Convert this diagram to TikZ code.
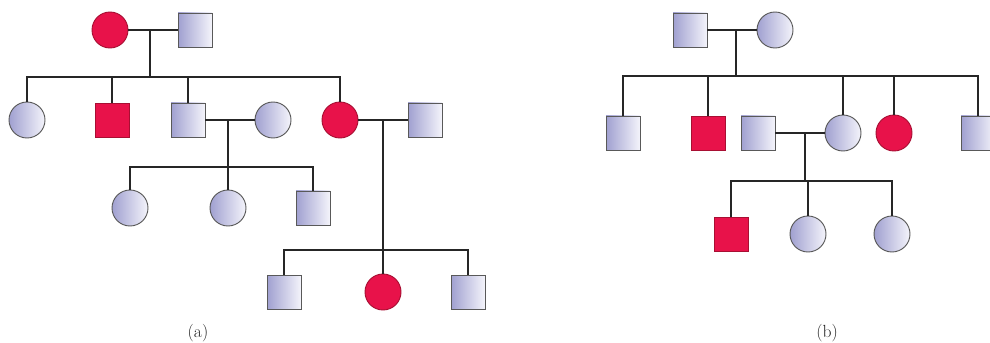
\documentclass[tikz,border=0pt]{standalone}
\usepackage{xcolor}
\usepackage{tikz}

\definecolor{lavdark}{HTML}{A0A0D0}
\definecolor{lavlight}{HTML}{F4F4FB}
\definecolor{affred}{HTML}{E8124A}
\definecolor{affedge}{HTML}{A80F33}

\begin{document}
\begin{tikzpicture}[x=0.03cm, y=-0.03cm,
    every node/.style={inner sep=0pt, outer sep=0pt, line width=0.8pt},
    male/.style={rectangle, minimum size=1.02cm},
    female/.style={circle, minimum size=1.08cm},
    healthy/.style={draw=black!65, left color=lavdark, right color=lavlight},
    affected/.style={draw=affedge, fill=affred},
    link/.style={line width=2.4pt, draw=black!85},
    tag/.style={font=\fontsize{15}{17}\selectfont, text=black!85}]
  \useasboundingbox (0,0) rectangle (990,343);
  % (a) first generation
  \node[female, affected] (a1) at (110,30) {};
  \node[male, healthy]    (a2) at (195,30) {};
  % (a) second generation
  \node[female, healthy]  (b1) at (27,120) {};
  \node[male, affected]   (b2) at (112,120) {};
  \node[male, healthy]    (b3) at (188,120) {};
  \node[female, healthy]  (b4) at (273,120) {};
  \node[female, affected] (b5) at (340,120) {};
  \node[male, healthy]    (b6) at (425,120) {};
  % (a) third generation
  \node[female, healthy]  (c1) at (130,208) {};
  \node[female, healthy]  (c2) at (228,208) {};
  \node[male, healthy]    (c3) at (313,208) {};
  \node[male, healthy]    (d1) at (284,292) {};
  \node[female, affected] (d2) at (383,292) {};
  \node[male, healthy]    (d3) at (468,292) {};
  \coordinate (ma) at (150,30);
  \coordinate (sa) at (150,77);
  \coordinate (mb) at (228,120);
  \coordinate (sb) at (228,167);
  \coordinate (mc) at (383,120);
  \coordinate (sc) at (383,250);
  \draw[link] (a1) -- (a2);
  \draw[link] (ma) -- (sa);
  \draw[link] (b1.north) |- (sa) -| (b5.north);
  \draw[link] (b2.north) -- (b2.north |- sa);
  \draw[link] (b3.north) -- (b3.north |- sa);
  \draw[link] (b3) -- (b4);
  \draw[link] (mb) -- (sb);
  \draw[link] (c1.north) |- (sb) -| (c3.north);
  \draw[link] (c2.north) -- (c2.north |- sb);
  \draw[link] (b5) -- (b6);
  \draw[link] (mc) -- (d2.north);
  \draw[link] (d1.north) |- (sc) -| (d3.north);
  \node[tag] (la) at (198,333) {(a)};
  % (b) first generation
  \node[male, healthy]    (e1) at (690,30) {};
  \node[female, healthy]  (e2) at (775,30) {};
  % (b) second generation
  \node[male, healthy]    (f1) at (623,133) {};
  \node[male, affected]   (f2) at (708,133) {};
  \node[male, healthy]    (f3) at (758,133) {};
  \node[female, healthy]  (f4) at (843,133) {};
  \node[female, affected] (f5) at (894,133) {};
  \node[male, healthy]    (f6) at (978,133) {};
  % (b) third generation
  \node[male, affected]   (g1) at (731,234) {};
  \node[female, healthy]  (g2) at (808,234) {};
  \node[female, healthy]  (g3) at (892,234) {};
  \coordinate (md) at (736,30);
  \coordinate (sd) at (736,76);
  \coordinate (me) at (805,133);
  \coordinate (se) at (805,181);
  \draw[link] (e1) -- (e2);
  \draw[link] (md) -- (sd);
  \draw[link] (f1.north) |- (sd) -| (f6.north);
  \draw[link] (f2.north) -- (f2.north |- sd);
  \draw[link] (f4.north) -- (f4.north |- sd);
  \draw[link] (f5.north) -- (f5.north |- sd);
  \draw[link] (f3) -- (f4);
  \draw[link] (me) -- (se);
  \draw[link] (g1.north) |- (se) -| (g3.north);
  \draw[link] (g2.north) -- (g2.north |- se);
  \node[tag] (lb) at (827,333) {(b)};
\end{tikzpicture}
\end{document}
